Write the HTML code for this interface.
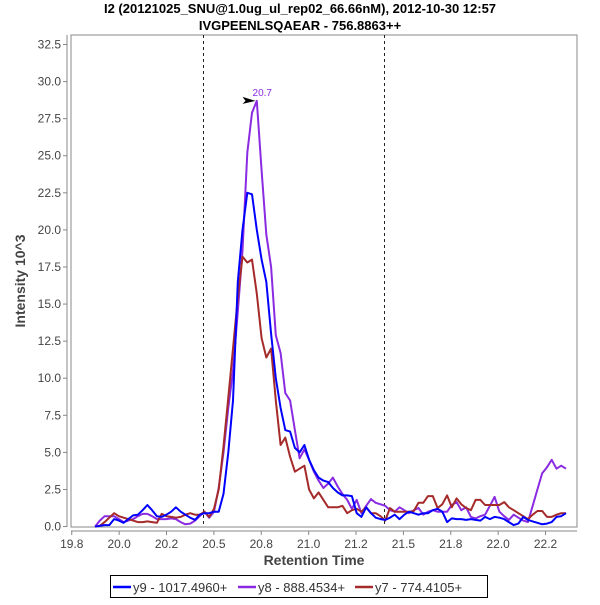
<!DOCTYPE html>
<html><head><meta charset="utf-8"><style>
body{margin:0;background:#fff;width:600px;height:600px;overflow:hidden;font-family:"Liberation Sans",sans-serif}
</style></head><body>
<svg id="chart" width="600" height="600" xmlns="http://www.w3.org/2000/svg">
<text x="300" y="13" text-anchor="middle" font-size="13" font-weight="bold" fill="#000">I2 (20121025_SNU@1.0ug_ul_rep02_66.66nM), 2012-10-30 12:57</text>
<text x="300" y="30" text-anchor="middle" font-size="13" font-weight="bold" fill="#000">IVGPEENLSQAEAR - 756.8863++</text>
<rect x="71" y="35" width="506" height="492" fill="#fff" stroke="#888" stroke-width="1"/>
<line x1="67" y1="35" x2="67" y2="527" stroke="#888"/>
<line x1="71" y1="531" x2="577" y2="531" stroke="#888"/>
<g id="yticks"></g><g id="xticks"></g><g id="marks"></g><g id="series"></g>
<text x="314" y="565" text-anchor="middle" font-size="14" font-weight="bold" fill="#444">Retention Time</text>
<text transform="translate(25,281) rotate(-90)" text-anchor="middle" font-size="14" font-weight="bold" fill="#444">Intensity 10^3</text>
<g>
<rect x="110.5" y="575.5" width="377" height="22" fill="#fff" stroke="#000"/>
<line x1="113" y1="587" x2="131" y2="587" stroke="#0000ff" stroke-width="2.5"/>
<text x="133" y="592" font-size="13" fill="#333">y9 - 1017.4960+</text>
<line x1="238" y1="587" x2="256" y2="587" stroke="#8a2be2" stroke-width="2.5"/>
<text x="258" y="592" font-size="13" fill="#333">y8 - 888.4534+</text>
<line x1="355" y1="587" x2="373" y2="587" stroke="#a52a2a" stroke-width="2.5"/>
<text x="375" y="592" font-size="13" fill="#333">y7 - 774.4105+</text>
</g>
</svg>
<script>
const tStart = 19.873;
const tStep = 0.0251;
const y9 = [0,0.05,0.1,0.1,0.5,0.4,0.25,0.5,0.75,0.8,1.1,1.45,1.1,0.7,0.65,0.8,1.0,1.3,1.0,0.8,0.6,0.45,0.8,0.9,0.9,1.0,1.0,2.2,5,8.5,16.5,20,22.5,22.4,20,18,16.5,13,10,8,6.5,6.4,5.3,5.0,5.5,4.5,3.8,3.3,3.1,3.0,2.6,2.3,2.1,2.1,2.05,0.9,0.65,1.3,0.9,0.6,0.5,0.45,0.6,0.8,0.5,0.8,1.0,0.9,0.8,0.9,0.9,1.1,1.2,1.0,0.3,0.55,0.5,0.5,0.45,0.5,0.45,0.4,0.65,0.5,0.65,0.6,0.5,0.3,0.1,0.2,0.65,0.45,0.35,0.25,0.15,0.2,0.3,0.65,0.7,0.9];
const y8 = [0,0.4,0.7,0.7,0.7,0.5,0.3,0.4,0.5,0.7,0.85,0.85,0.7,0.5,0.5,0.5,0.55,0.5,0.3,0.15,0.2,0.4,0.7,1.0,0.6,1.0,2.6,5,8,10.5,14.5,18.6,25.2,27.9,28.7,24,19.7,17.5,12.9,11.7,9,8.5,6.5,4.6,5.2,4.5,3.7,3.1,2.6,2.9,3.3,2.7,2.2,1.8,1.2,1.8,0.9,1.4,1.85,1.6,1.5,1.4,1.1,1.0,1.3,1.1,0.9,1.1,1.25,0.8,1.0,1.1,1.0,1.0,1.0,1.45,1.65,1.1,1.3,0.65,0.55,0.7,0.8,1.4,2.0,1.0,0.7,0.45,0.8,0.6,0.4,0.3,1.4,2.5,3.6,4.0,4.5,3.9,4.1,3.9];
const y7 = [0,0.05,0.3,0.6,0.9,0.7,0.6,0.5,0.4,0.3,0.3,0.35,0.3,0.25,0.85,0.7,0.65,0.6,0.65,0.8,0.9,0.8,0.8,1.0,0.65,1.2,2.5,5.4,8.7,12,15.4,18.2,17.8,18.0,15.7,12.7,11.4,12,8.5,5.5,6.0,4.7,3.7,3.9,4.1,2.5,1.9,2.3,1.8,1.3,1.3,1.3,1.4,0.9,1.1,1.2,1.0,1.3,0.9,0.9,0.7,0.4,1.25,1.0,1.0,1.0,1.0,1.05,1.6,1.6,2.05,2.05,1.25,1.5,2.1,1.3,1.9,1.5,1.25,1.1,1.8,1.8,1.45,1.45,1.45,1.45,1.65,1.3,1.1,0.9,0.7,0.5,0.8,1.05,1.05,0.65,0.65,0.8,0.9,0.9];
const yTicks = [0,2.5,5,7.5,10,12.5,15,17.5,20,22.5,25,27.5,30,32.5];
const xTicks = [19.75,20,20.25,20.5,20.75,21,21.25,21.5,21.75,22,22.25];
const xTickLabels = ["19.8","20.0","20.2","20.5","20.8","21.0","21.2","21.5","21.8","22.0","22.2"];
const markerTimes = [20.44,21.395];
const peakTime = 20.725, peakValue = 28.7, peakLabel = "20.7";

const NS="http://www.w3.org/2000/svg";
const X0=71,X1=577,Y0=35,Y1=527;
const xMin=19.746,xMax=22.416,yMin=-0.03,yMax=33.14;
const xs=t=>X0+(t-xMin)/(xMax-xMin)*(X1-X0);
const ys=v=>Y1-(v-yMin)/(yMax-yMin)*(Y1-Y0);
function mk(tag,attrs,parent){const e=document.createElementNS(NS,tag);for(const k in attrs)e.setAttribute(k,attrs[k]);parent.appendChild(e);return e;}
const gy=document.getElementById('yticks'),gx=document.getElementById('xticks'),gm=document.getElementById('marks'),gs=document.getElementById('series');
yTicks.forEach(v=>{
  const l=mk('line',{x1:63,x2:67,y1:ys(v),y2:ys(v),stroke:'#888'},gy);
  
  
  const t=mk('text',{x:61,y:ys(v)+4,'text-anchor':'end','font-size':12,fill:'#444'},gy);
  t.textContent=v.toFixed(1);
  
  
});
xTicks.forEach((v,i)=>{
  const l=mk('line',{x1:xs(v),x2:xs(v),y1:531,y2:535,stroke:'#888'},gx);
  
  
  const t=mk('text',{x:xs(v),y:548,'text-anchor':'middle','font-size':12,fill:'#444'},gx);
  t.textContent=xTickLabels[i];
  
  
});
markerTimes.forEach(v=>{
  const l=mk('line',{x1:Math.round(xs(v))+0.5,x2:Math.round(xs(v))+0.5,y1:Y0,y2:Y1,stroke:'#222','stroke-dasharray':'3,3'},gm);
  
  
});
[[y9,'#0000ff','series-y9'],[y8,'#8a2be2','series-y8'],[y7,'#a52a2a','series-y7']].forEach(([arr,c,n])=>{
  const pts=arr.map((v,i)=>xs(tStart+i*tStep).toFixed(1)+','+ys(v).toFixed(1)).join(' ');
  const p=mk('polyline',{points:pts,fill:'none',stroke:c,'stroke-width':2,'stroke-linejoin':'round'},gs);
  
  
});
// order: draw y9 on top like reference
gs.appendChild(gs.firstChild);
const px=xs(peakTime),py=ys(peakValue);
const arrow=mk('polygon',{points:`${px-1},${py} ${px-14},${py-4} ${px-11},${py} ${px-14},${py+3}`,fill:'#000'},gm);


const pl=mk('text',{x:px-4,y:py-5,'font-size':10,fill:'#8a2be2'},gm);
pl.textContent=peakLabel;


</script>
</body></html>
